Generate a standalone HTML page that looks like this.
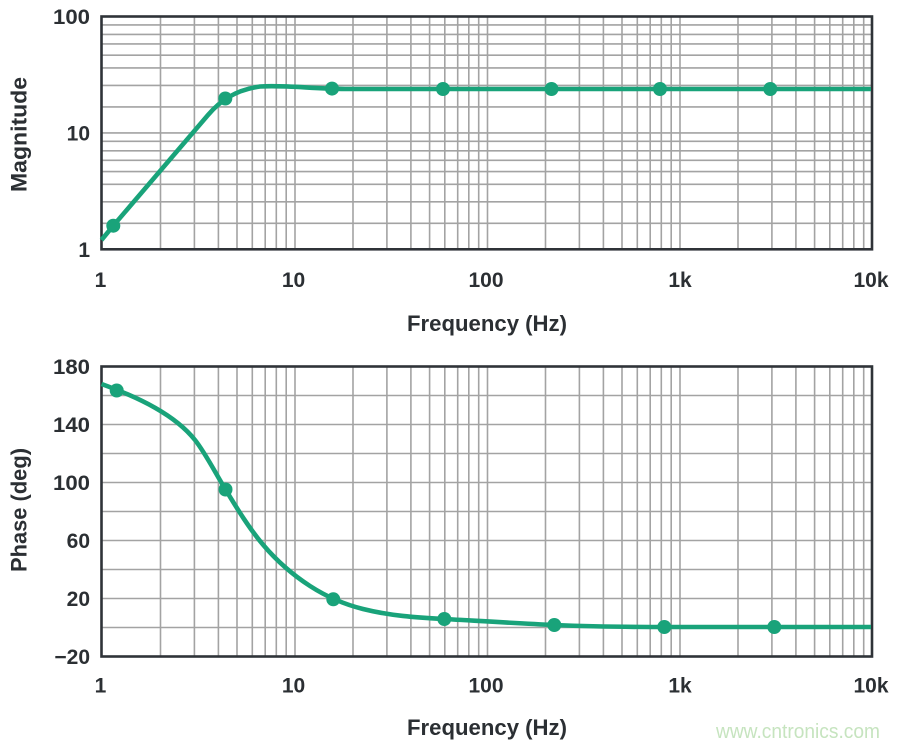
<!DOCTYPE html>
<html><head><meta charset="utf-8"><style>
html,body{margin:0;padding:0;background:#fff;}
svg{display:block;}
text{font-family:"Liberation Sans",Arial,sans-serif;}
.t{font-size:21px;font-weight:bold;fill:#2b2f33;}
.ax{font-size:22px;font-weight:bold;fill:#2b2f33;}
</style></head><body>
<svg width="900" height="747" viewBox="0 0 900 747" xmlns="http://www.w3.org/2000/svg">
<rect width="900" height="747" fill="#fff"/>
<g stroke="#a3a3a3" stroke-width="1.6" fill="none">
<path d="M160.5,16V249M194.4,16V249M218.4,16V249M237,16V249M252.3,16V249M265.2,16V249M276.3,16V249M286.2,16V249M295,16V249
M353,16V249M386.9,16V249M410.9,16V249M429.6,16V249M444.8,16V249M457.7,16V249M468.8,16V249M478.7,16V249M487.5,16V249
M545.5,16V249M579.4,16V249M603.4,16V249M622,16V249M637.3,16V249M650.2,16V249M661.3,16V249M671.2,16V249M680,16V249
M738,16V249M771.9,16V249M795.9,16V249M814.6,16V249M829.8,16V249M842.7,16V249M853.8,16V249M863.7,16V249"/>
<path d="M101,223.3H872M101,201.8H872M101,184.3H872M101,171.6H872M101,160.3H872M101,150.8H872M101,141.3H872M101,132.9H872
M101,106.9H872M101,85.4H872M101,67.9H872M101,55.2H872M101,43.9H872M101,34.4H872M101,24.9H872"/>
<path d="M160.5,366V656M194.4,366V656M218.4,366V656M237,366V656M252.3,366V656M265.2,366V656M276.3,366V656M286.2,366V656M295,366V656
M353,366V656M386.9,366V656M410.9,366V656M429.6,366V656M444.8,366V656M457.7,366V656M468.8,366V656M478.7,366V656M487.5,366V656
M545.5,366V656M579.4,366V656M603.4,366V656M622,366V656M637.3,366V656M650.2,366V656M661.3,366V656M671.2,366V656M680,366V656
M738,366V656M771.9,366V656M795.9,366V656M814.6,366V656M829.8,366V656M842.7,366V656M853.8,366V656M863.7,366V656"/>
<path d="M101,395.5H872M101,424.5H872M101,453.5H872M101,482.5H872M101,511.5H872M101,540.5H872M101,569.5H872M101,598.5H872M101,627.5H872"/>
</g>
<rect x="101.5" y="16.5" width="770.5" height="232.8" fill="none" stroke="#2f3338" stroke-width="2.6"/>
<rect x="101.5" y="366.5" width="770.5" height="290" fill="none" stroke="#2f3338" stroke-width="2.6"/>

<path d="M101.5,240 L113.3,225.7 L208,115 C220,101 235,90 260,86.5 C285,85 310,88.5 345,89 L871,89" fill="none" stroke="#19a37a" stroke-width="4.6" stroke-linejoin="round"/>
<g fill="#19a37a">
<circle cx="113.3" cy="225.7" r="7"/>
<circle cx="225.3" cy="98.5" r="7"/>
<circle cx="332" cy="88.6" r="7"/>
<circle cx="443" cy="89" r="7"/>
<circle cx="551.5" cy="89" r="7"/>
<circle cx="660" cy="89" r="7"/>
<circle cx="770.3" cy="89" r="7"/>
</g>

<path d="M101.5,384 C140,398 175,415 195,440 C205,452.5 216,474 225.5,489.5 C235,505 248,527 263.3,545 C278.6,563 293,575 310,586 C327,597 343,604 363,609 C390,615.7 415,617.5 444.3,619 C480,621 520,623.5 554.3,625 C590,626.5 630,627 664,627 L871,627" fill="none" stroke="#19a37a" stroke-width="4.6" stroke-linejoin="round"/>
<g fill="#19a37a">
<circle cx="116.7" cy="390.5" r="7"/>
<circle cx="225.5" cy="489.5" r="7"/>
<circle cx="333.3" cy="599.3" r="7"/>
<circle cx="444.3" cy="619" r="7"/>
<circle cx="554.3" cy="625" r="7"/>
<circle cx="664.3" cy="627" r="7"/>
<circle cx="774.3" cy="627" r="7"/>
</g>

<g class="t" text-anchor="end">
<text x="90" y="24" textLength="37" lengthAdjust="spacingAndGlyphs">100</text>
<text x="90" y="140.5">10</text>
<text x="90" y="257">1</text>
</g>
<g class="t" text-anchor="middle">
<text x="100.5" y="287">1</text>
<text x="293.5" y="287">10</text>
<text x="486" y="287">100</text>
<text x="680" y="287">1k</text>
<text x="871" y="287">10k</text>
</g>
<text class="ax" x="487" y="331" text-anchor="middle" textLength="160" lengthAdjust="spacingAndGlyphs">Frequency (Hz)</text>
<text class="ax" transform="translate(26.5,134.5) rotate(-90)" text-anchor="middle" textLength="115" lengthAdjust="spacingAndGlyphs">Magnitude</text>

<g class="t" text-anchor="end">
<text x="90" y="374" textLength="37" lengthAdjust="spacingAndGlyphs">180</text>
<text x="90" y="432" textLength="37" lengthAdjust="spacingAndGlyphs">140</text>
<text x="90" y="490" textLength="37" lengthAdjust="spacingAndGlyphs">100</text>
<text x="90" y="548">60</text>
<text x="90" y="606">20</text>
<text x="90" y="664">−20</text>
</g>
<g class="t" text-anchor="middle">
<text x="100.5" y="692.5">1</text>
<text x="293.5" y="692.5">10</text>
<text x="486" y="692.5">100</text>
<text x="680" y="692.5">1k</text>
<text x="871" y="692.5">10k</text>
</g>
<text class="ax" x="487" y="735" text-anchor="middle" textLength="160" lengthAdjust="spacingAndGlyphs">Frequency (Hz)</text>
<text class="ax" transform="translate(26.5,510) rotate(-90)" text-anchor="middle" textLength="124" lengthAdjust="spacingAndGlyphs">Phase (deg)</text>

<text x="716" y="738" font-size="20" fill="#c6e4bf" textLength="164" lengthAdjust="spacingAndGlyphs">www.cntronics.com</text>
</svg>
</body></html>
